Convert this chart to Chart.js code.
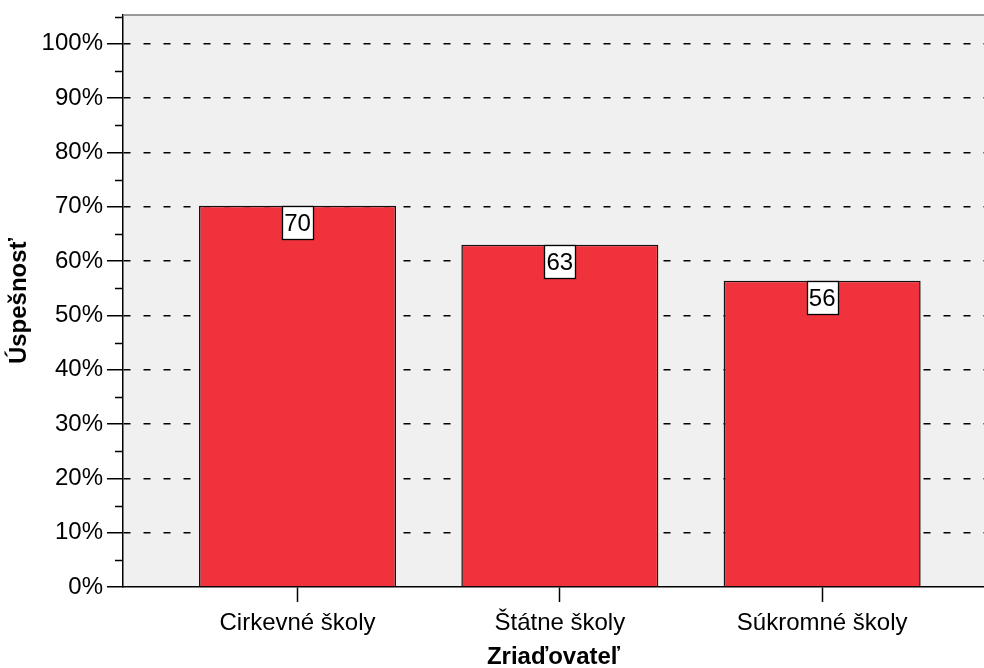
<!DOCTYPE html>
<html>
<head>
<meta charset="utf-8">
<script src="https://cdn.jsdelivr.net/npm/chart.js@4"></script>
<style>
  body { margin: 0; background: #fff; }
  canvas { display: block; }
</style>
</head>
<body>
<canvas id="chart" width="984" height="668"></canvas>
<script>
const categories = ["Cirkevné školy", "Štátne školy", "Súkromné školy"];
const values = [70.2, 63.0, 56.4];
const valueLabels = ["70", "63", "56"];
const yTicks = [0, 10, 20, 30, 40, 50, 60, 70, 80, 90, 100];

const FONT = "'Liberation Sans', Arial, sans-serif";

// plot background + top frame line
const frame = {
  id: "frame",
  beforeDraw(chart) {
    const { ctx, chartArea: a } = chart;
    ctx.save();
    ctx.fillStyle = "#f0f0f0";
    ctx.fillRect(a.left, a.top, a.right - a.left, a.bottom - a.top);
    ctx.restore();
  },
  afterDraw(chart) {
    const { ctx, chartArea: a } = chart;
    const y = chart.scales.y;
    ctx.save();
    ctx.strokeStyle = "#7a7a7a";
    ctx.lineWidth = 1.5;
    ctx.beginPath();
    ctx.moveTo(a.left, a.top);
    ctx.lineTo(a.right, a.top);
    ctx.stroke();
    // minor ticks on the y axis
    ctx.strokeStyle = "#000";
    for (let v = 5; v <= 105; v += 10) {
      const py = Math.round(y.getPixelForValue(v)) + 0.5;
      ctx.beginPath();
      ctx.moveTo(a.left - 8, py);
      ctx.lineTo(a.left, py);
      ctx.stroke();
    }
    ctx.restore();
  }
};

// white value boxes at the top of each bar
const valueBoxes = {
  id: "valueBoxes",
  afterDatasetsDraw(chart) {
    const { ctx } = chart;
    const meta = chart.getDatasetMeta(0);
    ctx.save();
    ctx.font = "24px " + FONT;
    ctx.textAlign = "center";
    ctx.textBaseline = "middle";
    meta.data.forEach((bar, i) => {
      const w = 31, h = 33;
      const x = Math.round(bar.x - w / 2) + 0.5;
      const top = Math.round(bar.y) + 0.5;
      ctx.fillStyle = "#fff";
      ctx.fillRect(x, top, w, h);
      ctx.strokeStyle = "#000";
      ctx.lineWidth = 1.3;
      ctx.strokeRect(x, top, w, h);
      ctx.fillStyle = "#000";
      ctx.fillText(valueLabels[i], bar.x, top + h / 2 + 1);
    });
    ctx.restore();
  }
};

new Chart(document.getElementById("chart"), {
  type: "bar",
  data: {
    datasets: [{
      data: values.map((v, i) => ({ x: i + 1, y: v })),
      backgroundColor: "#f0323c",
      borderColor: "#111",
      borderWidth: 1.5,
      borderSkipped: "bottom",
      barPercentage: 0.751,
      categoryPercentage: 1
    }]
  },
  options: {
    responsive: false,
    animation: false,
    layout: { padding: { top: 15, right: 0, left: 0, bottom: 0 } },
    plugins: { legend: { display: false }, tooltip: { enabled: false } },
    scales: {
      x: {
        type: "linear",
        offset: false,
        min: 0.3347,
        max: 3.617,
        afterFit: (s) => { s.height = 81; },
        ticks: {
          stepSize: 1,
          includeBounds: false,
          autoSkip: false,
          maxRotation: 0,
          padding: 7,
          color: "#000",
          font: { family: FONT, size: 24 },
          callback: (v) => categories[v - 1] || ""
        },
        grid: {
          offset: false,
          drawOnChartArea: false,
          drawTicks: true,
          tickLength: 15,
          tickColor: "#000",
          tickWidth: 1.5
        },
        border: { color: "#000", width: 1.5 },
        title: {
          display: true,
          text: "Zriaďovateľ",
          color: "#000",
          font: { family: FONT, size: 24, weight: "bold", lineHeight: 1 },
          padding: { top: 0, bottom: -1 }
        }
      },
      y: {
        min: 0,
        max: 105.3,
        afterFit: (s) => { s.width = 123; s.paddingTop = 0; s.paddingBottom = 0; },
        afterBuildTicks: (s) => {
          s.ticks = [];
          for (let v = 0; v <= 105; v += 5) s.ticks.push({ value: v });
        },
        ticks: {
          padding: 4,
          color: "#000",
          font: { family: FONT, size: 24 },
          callback: (v) => yTicks.includes(v) ? v + "%" : ""
        },
        grid: {
          color: (c) => (c.tick && yTicks.includes(c.tick.value) && c.tick.value > 0) ? "#000" : "transparent",
          lineWidth: 1.5,
          tickLength: 16,
          tickWidth: 1.5,
          tickColor: (c) => (c.tick && yTicks.includes(c.tick.value)) ? "#000" : "transparent"
        },
        border: { color: "#000", width: 1.5, dash: [7, 13] },
        title: {
          display: true,
          text: "Úspešnosť",
          color: "#000",
          font: { family: FONT, size: 24, weight: "bold", lineHeight: 1 },
          padding: { top: 7, bottom: 0 }
        }
      }
    }
  },
  plugins: [frame, valueBoxes]
});
</script>
</body>
</html>
